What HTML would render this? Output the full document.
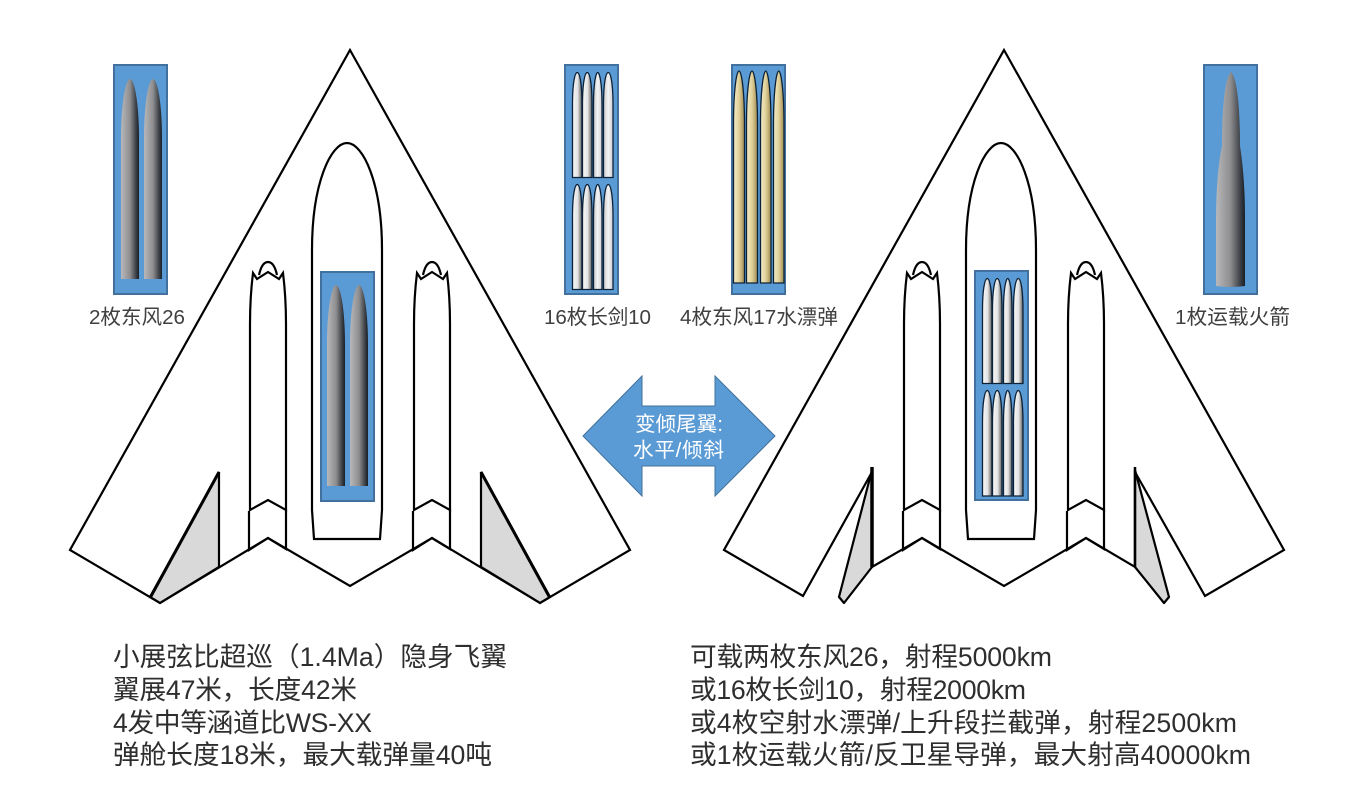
<!DOCTYPE html>
<html><head><meta charset="utf-8"><style>
html,body{margin:0;padding:0;background:#fff;width:1367px;height:786px;overflow:hidden}
svg{display:block}
text{font-family:"Liberation Sans","Noto Sans CJK SC",sans-serif;fill:#333}
.l{font-size:20.6px;fill:#404040}
.b{font-size:26.67px;fill:#2e2e2e}
.p{fill:#fff;stroke:#000;stroke-width:2.2;stroke-linejoin:miter}
.n{fill:none;stroke:#000;stroke-width:2.2}
.box{fill:#5B9BD5;stroke:#41719C;stroke-width:2}
.ms{stroke:#0c2238;stroke-width:1.3}
</style></head><body>
<svg width="1367" height="786" viewBox="0 0 1367 786" xmlns="http://www.w3.org/2000/svg">
<defs>
<linearGradient id="g"><stop offset="0" stop-color="#b8b8ba"/><stop offset=".5" stop-color="#8e8e90"/><stop offset=".8" stop-color="#45484d"/><stop offset="1" stop-color="#181e26"/></linearGradient>
<linearGradient id="s1"><stop offset="0" stop-color="#fafafa"/><stop offset=".55" stop-color="#e2e2e2"/><stop offset="1" stop-color="#5a5a5a"/></linearGradient>
<linearGradient id="s2"><stop offset="0" stop-color="#c8c8cc"/><stop offset=".5" stop-color="#f4f4f4"/><stop offset="1" stop-color="#cfcfd6"/></linearGradient>
<linearGradient id="y"><stop offset="0" stop-color="#f5ecc8"/><stop offset=".5" stop-color="#e0d099"/><stop offset="1" stop-color="#a08c50"/></linearGradient>
<g id="eng">
<path class="p" d="M-18 60C-18 40 -17 25 -15 9L-11 15L0 8L11 15L15 9C17 25 18 40 18 60V246L0 236L-18 246Z" />
<path class="n" d="M-9 11C-7 2 -4 -2 0 -2C4 -2 7 2 9 11"/>
<path class="n" d="M-19 247V286L0 274L18 285V245"/>
</g>
<path id="bay" class="p" d="M-35 107C-35 40 -16 0 0 0C16 0 35 40 35 107V367L33 396H-33L-35 367Z"/>
</defs>

<!-- left plane -->
<path class="p" d="M350 50L630 550L540 603L432 538L350 586L268 538L160 603L70 550Z"/>
<path d="M219 472V567L160 603L150 597Z" fill="#d9d9d9" stroke="#000" stroke-width="2.2"/>
<path d="M481 472V567L540 603L550 597Z" fill="#d9d9d9" stroke="#000" stroke-width="2.2"/>
<path d="M150 598L219 472M550 598L481 472" stroke="#000" stroke-width="3" fill="none"/>
<use href="#bay" x="347" y="143"/>
<use href="#eng" x="268" y="264"/>
<use href="#eng" x="432" y="264"/>

<!-- right plane -->
<path class="p" d="M1004 50L1284 550L1205 596L1135 472V567L1086 538L1004 586L922 538L872 567V472L803 596L724 550Z"/>
<path d="M872 470V567L844 603L839 597Z" fill="#d9d9d9" stroke="#000" stroke-width="2.2" stroke-linejoin="round"/>
<path d="M872 467V567" stroke="#000" stroke-width="3.5"/>
<path d="M1135 470V567L1164 603L1169 597Z" fill="#d9d9d9" stroke="#000" stroke-width="2.2" stroke-linejoin="round"/>
<path d="M1135 467V567" stroke="#000" stroke-width="2.5"/>
<use href="#bay" x="1001" y="143"/>
<use href="#eng" x="922" y="264"/>
<use href="#eng" x="1086" y="264"/>

<!-- boxes -->
<rect class="box" x="114" y="65" width="53" height="229"/>
<path fill="url(#g)" d="M121 279V140C121 100 126 79 130 79C134 79 139 100 139 140V279Z"/>
<path fill="url(#g)" d="M144 279V140C144 100 149 79 153 79C157 79 162 100 162 140V279Z"/>

<rect class="box" x="321" y="272" width="53" height="229"/>
<path fill="url(#g)" d="M327 486V346C327 306 332 285 336 285C340 285 345 306 345 346V486Z"/>
<path fill="url(#g)" d="M350 486V346C350 306 355 285 359 285C363 285 368 306 368 346V486Z"/>

<rect class="box" x="565" y="65" width="53" height="229"/>
<g class="ms">
<path fill="url(#s1)" d="M572.500 177.500V105C572.500 82 575 72.500 577.250 72.500C579.500 72.500 582 82 582 105V177.500Z"/>
<path fill="url(#s1)" d="M582.500 177.500V105C582.500 82 585 72.500 587.250 72.500C589.500 72.500 592 82 592 105V177.500Z"/>
<path fill="url(#s2)" d="M593.500 177.500V105C593.500 82 596 72.500 597.750 72.500C599.500 72.500 602 82 602 105V177.500Z"/>
<path fill="url(#s2)" d="M603.500 177.500V105C603.500 82 606 72.500 608.250 72.500C610.500 72.500 613 82 613 105V177.500Z"/>
<path fill="url(#s1)" d="M572.500 289.500V217C572.500 194 575 184.500 577.250 184.500C579.500 184.500 582 194 582 217V289.500Z"/>
<path fill="url(#s1)" d="M582.500 289.500V217C582.500 194 585 184.500 587.250 184.500C589.500 184.500 592 194 592 217V289.500Z"/>
<path fill="url(#s2)" d="M593.500 289.500V217C593.500 194 596 184.500 597.750 184.500C599.500 184.500 602 194 602 217V289.500Z"/>
<path fill="url(#s2)" d="M603.500 289.500V217C603.500 194 606 184.500 608.250 184.500C610.500 184.500 613 194 613 217V289.500Z"/>
</g>

<rect class="box" x="732" y="65" width="53" height="229"/>
<g class="ms">
<path fill="url(#y)" d="M733.500 283V125C733.500 90 736.500 71 739 71C741.500 71 744.500 90 744.500 125V283Z"/>
<path fill="url(#y)" d="M746.500 283V125C746.500 90 749.500 71 752 71C754.500 71 757.500 90 757.500 125V283Z"/>
<path fill="url(#y)" d="M760.500 283V125C760.500 90 763.500 71 765.750 71C768 71 771 90 771 125V283Z"/>
<path fill="url(#y)" d="M773.500 283V125C773.500 90 776.500 71 778.750 71C781 71 784 90 784 125V283Z"/>
</g>

<rect class="box" x="975" y="271" width="53" height="229"/>
<g class="ms">
<path fill="url(#s1)" d="M982.500 383.500V311C982.500 288 985 278.500 987.250 278.500C989.500 278.500 992 288 992 311V383.500Z"/>
<path fill="url(#s1)" d="M992.500 383.500V311C992.500 288 995 278.500 997.250 278.500C999.500 278.500 1002 288 1002 311V383.500Z"/>
<path fill="url(#s1)" d="M1003.500 383.500V311C1003.500 288 1006 278.500 1007.750 278.500C1009.500 278.500 1012 288 1012 311V383.500Z"/>
<path fill="url(#s1)" d="M1013.500 383.500V311C1013.500 288 1016 278.500 1018.250 278.500C1020.500 278.500 1023 288 1023 311V383.500Z"/>
<path fill="url(#s1)" d="M982.500 496V423C982.500 400 985 390.500 987.250 390.500C989.500 390.500 992 400 992 423V496Z"/>
<path fill="url(#s1)" d="M992.500 496V423C992.500 400 995 390.500 997.250 390.500C999.500 390.500 1002 400 1002 423V496Z"/>
<path fill="url(#s1)" d="M1003.500 496V423C1003.500 400 1006 390.500 1007.750 390.500C1009.500 390.500 1012 400 1012 423V496Z"/>
<path fill="url(#s1)" d="M1013.500 496V423C1013.500 400 1016 390.500 1018.250 390.500C1020.500 390.500 1023 400 1023 423V496Z"/>
</g>

<rect class="box" x="1204" y="65" width="53" height="229"/>
<path fill="url(#g)" d="M1231 72C1226 76 1222 100 1222 146C1218 165 1216 190 1216 225V286Q1231 288 1245 286V215C1245 190 1243 165 1240 146C1240 100 1236 76 1231 72Z"/>

<!-- arrow -->
<path d="M583 436L642 376V406H715V376L775 436L715 496V466H642V496Z" fill="#5B9BD5" stroke="#41719C" stroke-width="1"/>
<text x="635" y="431" font-size="20.6" style="fill:#fff" textLength="88" lengthAdjust="spacing">变倾尾翼:</text>
<text x="633" y="457" font-size="20.6" style="fill:#fff" textLength="91" lengthAdjust="spacing">水平/倾斜</text>

<!-- labels -->
<text class="l" x="89" y="324" textLength="96" lengthAdjust="spacing">2枚东风26</text>
<text class="l" x="544" y="324" textLength="107" lengthAdjust="spacing">16枚长剑10</text>
<text class="l" x="680" y="324" textLength="158" lengthAdjust="spacing">4枚东风17水漂弹</text>
<text class="l" x="1175" y="324" textLength="115" lengthAdjust="spacing">1枚运载火箭</text>

<text class="b" x="113" y="666" textLength="394" lengthAdjust="spacing">小展弦比超巡（1.4Ma）隐身飞翼</text>
<text class="b" x="113" y="699" textLength="244" lengthAdjust="spacing">翼展47米，长度42米</text>
<text class="b" x="113" y="732" textLength="259" lengthAdjust="spacing">4发中等涵道比WS-XX</text>
<text class="b" x="113" y="764" textLength="379" lengthAdjust="spacing">弹舱长度18米，最大载弹量40吨</text>

<text class="b" x="690" y="666" textLength="362" lengthAdjust="spacing">可载两枚东风26，射程5000km</text>
<text class="b" x="690" y="699" textLength="336" lengthAdjust="spacing">或16枚长剑10，射程2000km</text>
<text class="b" x="690" y="732" textLength="547" lengthAdjust="spacing">或4枚空射水漂弹/上升段拦截弹，射程2500km</text>
<text class="b" x="690" y="764" textLength="561" lengthAdjust="spacing">或1枚运载火箭/反卫星导弹，最大射高40000km</text>
</svg>
</body></html>
